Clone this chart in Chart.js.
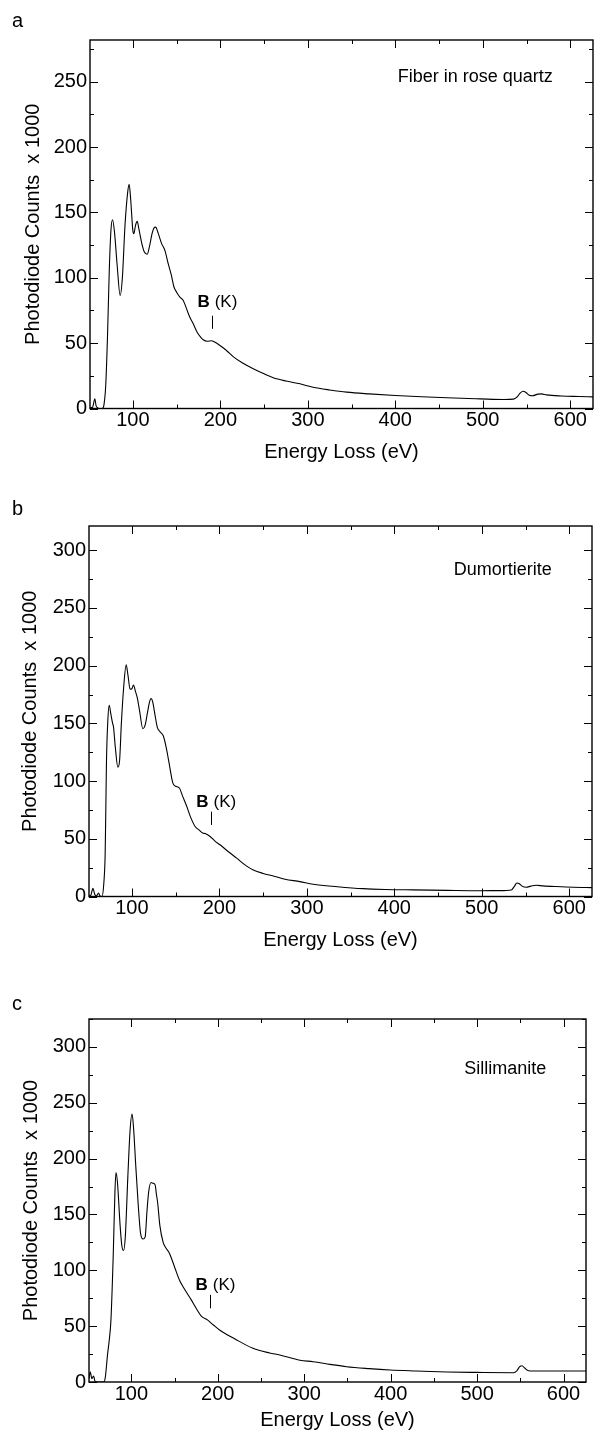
<!DOCTYPE html>
<html><head><meta charset="utf-8">
<script src="https://cdn.jsdelivr.net/npm/chart.js@4.4.1/dist/chart.umd.min.js"></script>
<style>
html,body{margin:0;padding:0;background:#fff;}
body{width:594px;height:1437px;position:relative;overflow:hidden;}
canvas{position:absolute;left:0;display:block;}
</style></head><body>
<canvas id="ca" width="594" height="475" style="top:0px"></canvas>
<canvas id="cb" width="594" height="480" style="top:475px"></canvas>
<canvas id="cc" width="594" height="482" style="top:955px"></canvas>
<script>
// ---------- DATA ----------
const panelLetters = ['a', 'b', 'c'];
const sampleNames = ['Fiber in rose quartz', 'Dumortierite', 'Sillimanite'];
const xTickValues = [100, 200, 300, 400, 500, 600];
const yTickValuesA = [0, 50, 100, 150, 200, 250];
const yTickValuesBC = [0, 50, 100, 150, 200, 250, 300];
const edgeLabelBold = 'B';
const edgeLabelRest = '(K)';
const edgeEnergy = [190.7, 190.5, 191.3];

// Panel a: Fiber in rose quartz
const energyA = [51,54,56.5,58,60,62,65,67,69,71,73,75,76.8,79,82,85.5,88,91,94,95.8,97.5,100,101,103,104.9,107,110,113,116.4,119,122,124,126,129,133,136.6,140.4,144,147,150,154,157.6,161,165,169,173,177,180.4,185,190,193,200,207,215,225,237.6,250,260.5,275,291,306,325,344.5,370,400,430,459,497,524,535,539,543,546,549,553,557,563,567,573,590,610,626];
const countsA = [0.5,1,7.5,2,0.5,0,0,3,18,55,105,137,144.5,135,110,86.5,100,140,165,171.5,160,136,133.7,140,143.2,137,127,120,118,124,134,138,138.8,134,126,121,110.8,102,93,89,85,82.7,77,70,64.8,59,55,52.6,51.5,51.8,51,48,44.4,39.5,35,30.4,26.5,23.5,21,18.9,16.3,14.2,12.5,11.2,10,9,8.2,7.4,6.9,7.2,8.7,12,13.2,12.5,10.2,9.8,11,11.2,10.4,9.6,9.2,8.9];

// Panel b: Dumortierite
const energyB = [51,53,55.5,57.5,59.5,61.9,63.5,65.8,68,69.5,70.3,71,72.5,74.1,76,78,79,81,84,86,88,90.5,93.5,95.5,98,100,101.8,104,106.4,109,112.5,115,118,120,122,124,126.5,129.2,132,136,139,142,146.8,150,154.3,158,162.8,167,172.3,177,181,183.7,189.4,195,200.8,210,219.8,230,238.8,250,261.6,275,292,307.3,335,364.4,390,421.5,460,497.6,520,533.8,537,540.2,543,546,550.9,556,562.3,570,585,605,626];
const countsB = [0.5,1,7,2,0.5,3,0.5,0,12,37.6,80,118,152,165.6,158,150,147,130,112,118,150,180,200.7,192,179.6,180,183.3,178,171.5,160,145.4,148,160,168,171.5,168,157,146.3,143,139,130,118,98.4,95.5,94,87,78,69,60.7,57.5,55,54.5,52,48,44.8,39,33.2,27,23,20,17.8,15,12.9,10.6,8.5,6.8,6.1,5.7,5.3,5,5.1,5.7,8.5,11.7,11,9,8,9,9.7,9.2,8.6,8,7.7];

// Panel c: Sillimanite
const energyC = [51,52.4,54.3,56.3,58,60,68,69.8,72.5,74.5,76.4,79.1,81,82.2,84,87,89,91,93,96,98.5,100.8,102.5,105,108,110.5,113.5,116,118,120,122.8,125,127.5,129,130.5,133,136.8,140,144,150,155.6,160,169.3,175,180.9,188,195,202,220,240.7,260,271.7,295,310.3,330,349,375,399.3,430,465,500,542,546,549,552,555,559.6,565,577,600,626];
const countsC = [3,9.2,3,5.4,0.5,0,0,3.9,25,38,55.6,115,170,187.6,178,140,122,117.7,130,185,225,239.9,228,195,158,134,128,130,152,170,178.6,178,176.5,168,160,140,125,120,115.3,103,91.4,85,73.5,66,59,55.6,51,46.6,38.5,30.2,26,24.2,19.5,18.2,15.8,13.7,12,10.8,9.9,9,8.6,8.3,10,13.5,14.6,12.5,10.1,9.9,9.9,9.8,9.9];

// ---------- LAYOUT (page pixels) ----------
const FONT = '"Liberation Sans", Arial, Helvetica, sans-serif';

const panels = [
  { id: 'ca', top: 0,   H: 475, area: {l: 90, t: 40,   r: 593, b: 408.5}, yMax: 282, yTicks: yTickValuesA,
    energy: energyA, counts: countsA, xTitlePad: 11, yTitlePad: 21,
    nameX: 580, nameY: 254, edgeY0: 61, edgeY1: 71, edgeTextY: 81.5, letterBase: 27 },
  { id: 'cb', top: 475, H: 480, area: {l: 89, t: 526,  r: 592, b: 896.5}, yMax: 321, yTicks: yTickValuesBC,
    energy: energyB, counts: countsB, xTitlePad: 3, yTitlePad: 18,
    nameX: 580, nameY: 283, edgeY0: 62, edgeY1: 73.5, edgeTextY: 82, letterBase: 515 },
  { id: 'cc', top: 955, H: 482, area: {l: 89, t: 1019, r: 586, b: 1382}, yMax: 325, yTicks: yTickValuesBC,
    energy: energyC, counts: countsC, xTitlePad: 5, yTitlePad: 19.5,
    nameX: 580, nameY: 280, edgeY0: 66, edgeY1: 78, edgeTextY: 87, letterBase: 1010 }
];

const frameTicks = {
  id: 'frameTicks',
  afterDatasetsDraw(chart, args, o) {
    const {ctx, chartArea: a, scales: {x, y}} = chart;
    ctx.save();
    ctx.strokeStyle = '#000';
    ctx.lineWidth = 1.4;
    ctx.strokeRect(a.left, a.top, a.right - a.left, a.bottom - a.top);
    ctx.lineWidth = 1;
    ctx.beginPath();
    for (let v = 50; v <= x.max; v += 50) {
      if (v < x.min) continue;
      const px = Math.round(x.getPixelForValue(v)) + 0.5;
      const len = v % 100 === 0 ? 8 : 4;
      ctx.moveTo(px, a.bottom); ctx.lineTo(px, a.bottom - len);
      ctx.moveTo(px, a.top); ctx.lineTo(px, a.top + len);
    }
    for (let v = 0; v <= y.max; v += 25) {
      const py = Math.round(y.getPixelForValue(v)) + 0.5;
      const len = v % 50 === 0 ? 8 : 4;
      ctx.moveTo(a.left, py); ctx.lineTo(a.left + len, py);
      ctx.moveTo(a.right, py); ctx.lineTo(a.right - len, py);
    }
    ctx.stroke();

    // annotations
    const p = o.panel;
    ctx.fillStyle = '#000';
    ctx.font = '18px ' + FONT;
    ctx.textAlign = 'right';
    ctx.textBaseline = 'middle';
    ctx.fillText(o.name, x.getPixelForValue(p.nameX), y.getPixelForValue(p.nameY));

    const ex = x.getPixelForValue(o.edge);
    ctx.beginPath();
    ctx.lineWidth = 1;
    ctx.moveTo(Math.round(ex) + 0.5, y.getPixelForValue(p.edgeY0));
    ctx.lineTo(Math.round(ex) + 0.5, y.getPixelForValue(p.edgeY1));
    ctx.stroke();
    const ty = y.getPixelForValue(p.edgeTextY);
    ctx.font = 'bold 17px ' + FONT;
    ctx.textAlign = 'right';
    ctx.fillText(edgeLabelBold, ex - 2.5, ty);
    ctx.font = '17px ' + FONT;
    ctx.textAlign = 'left';
    ctx.fillText(edgeLabelRest, ex + 2.5, ty);

    ctx.font = '20px ' + FONT;
    ctx.textAlign = 'left';
    ctx.textBaseline = 'alphabetic';
    ctx.fillText(o.letter, 12, p.letterBase - p.top);
    ctx.restore();
  }
};

panels.forEach((p, i) => {
  const A = p.area;
  const data = p.energy.map((e, k) => ({x: e, y: p.counts[k]}));
  new Chart(document.getElementById(p.id), {
    type: 'line',
    data: { datasets: [{ data, borderColor: '#000', borderWidth: 1.1, pointRadius: 0,
      cubicInterpolationMode: 'monotone', fill: false }] },
    plugins: [frameTicks],
    options: {
      responsive: false, animation: false,
      layout: { padding: { left: 0, top: A.t - p.top, right: 594 - A.r, bottom: 0 } },
      plugins: {
        legend: { display: false }, tooltip: { enabled: false },
        frameTicks: { panel: p, name: sampleNames[i], letter: panelLetters[i], edge: edgeEnergy[i] }
      },
      scales: {
        x: {
          type: 'linear', min: 51, max: 626,
          afterFit: s => { s.height = p.top + p.H - A.b; },
          afterBuildTicks: s => { s.ticks = xTickValues.map(v => ({value: v})); },
          grid: { display: false, drawTicks: false }, border: { display: false },
          ticks: { color: '#000', font: { size: 20, family: FONT }, padding: 0, maxRotation: 0, autoSkip: false },
          title: { display: true, text: 'Energy Loss (eV)', color: '#000', font: { size: 20, family: FONT },
            padding: { top: 0, bottom: p.xTitlePad } }
        },
        y: {
          type: 'linear', min: 0, max: p.yMax,
          afterFit: s => { s.width = A.l; },
          afterBuildTicks: s => { s.ticks = p.yTicks.map(v => ({value: v})); },
          grid: { display: false, drawTicks: false }, border: { display: false },
          ticks: { color: '#000', font: { size: 20, family: FONT }, padding: 3, autoSkip: false },
          title: { display: true, text: 'Photodiode Counts  x 1000', color: '#000', font: { size: 20, family: FONT },
            padding: { top: p.yTitlePad, bottom: 0 } }
        }
      }
    }
  });
});
</script>
</body></html>
